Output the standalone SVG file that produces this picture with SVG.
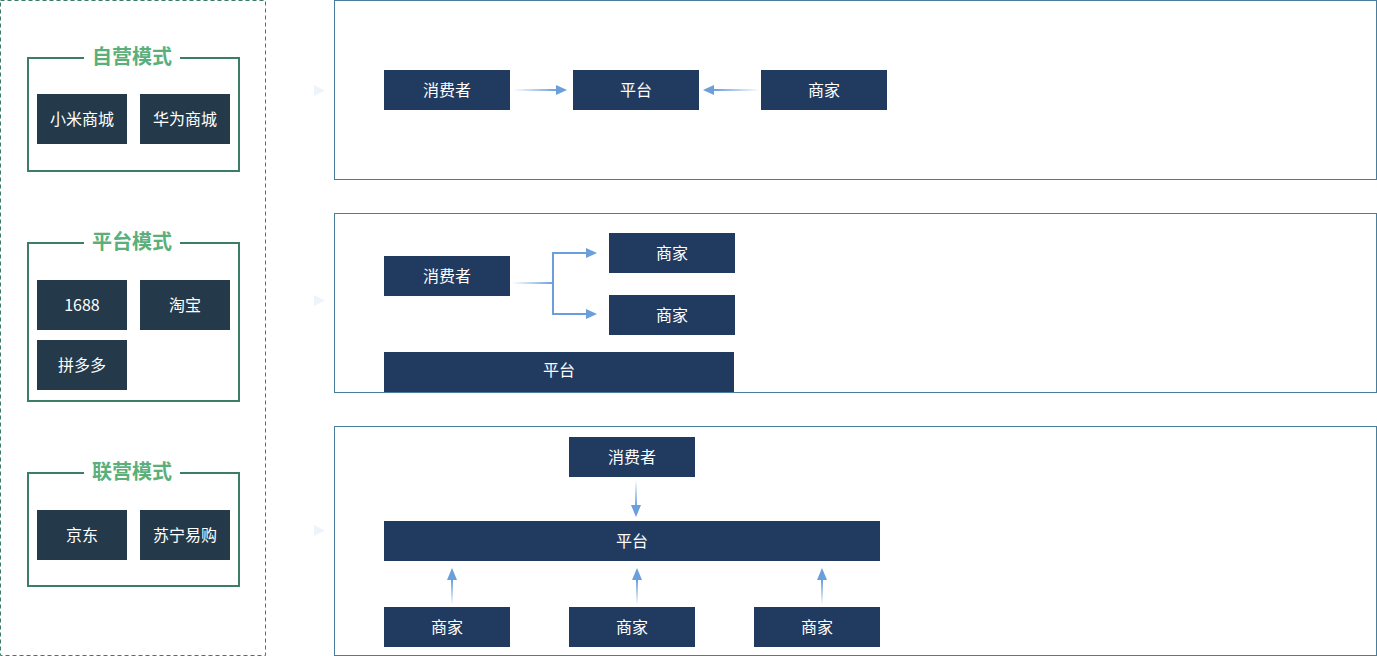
<svg xmlns="http://www.w3.org/2000/svg" width="1377" height="656" viewBox="0 0 1377 656">
<style>
.t{font-family:"Noto Sans CJK SC","Noto Sans",sans-serif;font-size:16px;fill:#ffffff;text-anchor:middle;dominant-baseline:central}
.ttl{font-family:"Noto Sans CJK SC","Noto Sans",sans-serif;font-size:20px;font-weight:bold;fill:#5aaf7a;text-anchor:middle;dominant-baseline:central}
.ln{fill:#213b60}
.ld{fill:#243a4b}
.grp{fill:none;stroke:#3b7d68;stroke-width:2}
.pnl{fill:#ffffff;stroke:#4a7d9c;stroke-width:1}
.tri{fill:#eef4fb}
</style>
<defs>
<linearGradient id="gR" x1="0" y1="0" x2="1" y2="0"><stop offset="0" stop-color="#6a9fdb" stop-opacity="0"/><stop offset="1" stop-color="#6a9fdb"/></linearGradient>
<linearGradient id="gL" x1="1" y1="0" x2="0" y2="0"><stop offset="0" stop-color="#6a9fdb" stop-opacity="0"/><stop offset="1" stop-color="#6a9fdb"/></linearGradient>
<linearGradient id="gD" x1="0" y1="0" x2="0" y2="1"><stop offset="0" stop-color="#6a9fdb" stop-opacity="0"/><stop offset="1" stop-color="#6a9fdb"/></linearGradient>
<linearGradient id="gU" x1="0" y1="1" x2="0" y2="0"><stop offset="0" stop-color="#6a9fdb" stop-opacity="0"/><stop offset="1" stop-color="#6a9fdb"/></linearGradient>
</defs>
<rect width="1377" height="656" fill="#ffffff"/>
<rect x="0.5" y="0.5" width="265" height="655" fill="none" stroke="#3b7d68" stroke-width="1" stroke-dasharray="4,3"/>

<g id="group-ziying">
<path class="grp" d="M84 58 H28 V171 H239 V58 H180"/>
<text class="ttl" x="132" y="55.5">自营模式</text>
<g id="n-xiaomi"><rect class="ld" x="37" y="94" width="90" height="50"/><text class="t" x="82" y="117.5">小米商城</text></g>
<g id="n-huawei"><rect class="ld" x="140" y="94" width="90" height="50"/><text class="t" x="185" y="117.5">华为商城</text></g>
</g>

<g id="group-pingtai">
<path class="grp" d="M84 243 H28 V401 H239 V243 H180"/>
<text class="ttl" x="132" y="240.5">平台模式</text>
<g id="n-1688"><rect class="ld" x="37" y="280" width="90" height="50"/><text class="t" x="82" y="303.5">1688</text></g>
<g id="n-taobao"><rect class="ld" x="140" y="280" width="90" height="50"/><text class="t" x="185" y="303.5">淘宝</text></g>
<g id="n-pdd"><rect class="ld" x="37" y="340" width="90" height="50"/><text class="t" x="82" y="363.5">拼多多</text></g>
</g>

<g id="group-lianying">
<path class="grp" d="M84 473 H28 V586 H239 V473 H180"/>
<text class="ttl" x="132" y="470.5">联营模式</text>
<g id="n-jd"><rect class="ld" x="37" y="510" width="90" height="50"/><text class="t" x="82" y="533.5">京东</text></g>
<g id="n-suning"><rect class="ld" x="140" y="510" width="90" height="50"/><text class="t" x="185" y="533.5">苏宁易购</text></g>
</g>

<polygon class="tri" points="314,85 325,90.5 314,96"/>
<polygon class="tri" points="314,295 325,300.5 314,306"/>
<polygon class="tri" points="314,525 325,530.5 314,536"/>

<g id="panel1">
<rect class="pnl" x="334.5" y="0.5" width="1042" height="179"/>
<g id="p1-consumer"><rect class="ln" x="384" y="70" width="126" height="40"/><text class="t" x="447" y="88.5">消费者</text></g>
<g id="p1-platform"><rect class="ln" x="573" y="70" width="126" height="40"/><text class="t" x="636" y="88.5">平台</text></g>
<g id="p1-merchant"><rect class="ln" x="761" y="70" width="126" height="40"/><text class="t" x="824" y="88.5">商家</text></g>
</g>

<g id="panel2">
<rect class="pnl" x="334.5" y="213.5" width="1042" height="179"/>
<g id="p2-consumer"><rect class="ln" x="384" y="256" width="126" height="40"/><text class="t" x="447" y="274.5">消费者</text></g>
<g id="p2-merchant1"><rect class="ln" x="609" y="233" width="126" height="40"/><text class="t" x="672" y="251.5">商家</text></g>
<g id="p2-merchant2"><rect class="ln" x="609" y="295" width="126" height="40"/><text class="t" x="672" y="313.5">商家</text></g>
<g id="p2-platform"><rect class="ln" x="384" y="352" width="350" height="40"/><text class="t" x="559" y="369">平台</text></g>
</g>

<g id="panel3">
<rect class="pnl" x="334.5" y="426.5" width="1042" height="229"/>
<g id="p3-consumer"><rect class="ln" x="569" y="437" width="126" height="40"/><text class="t" x="632" y="455.5">消费者</text></g>
<g id="p3-platform"><rect class="ln" x="384" y="521" width="496" height="40"/><text class="t" x="632" y="539.5">平台</text></g>
<g id="p3-merchant1"><rect class="ln" x="384" y="607" width="126" height="40"/><text class="t" x="447" y="626">商家</text></g>
<g id="p3-merchant2"><rect class="ln" x="569" y="607" width="126" height="40"/><text class="t" x="632" y="626">商家</text></g>
<g id="p3-merchant3"><rect class="ln" x="754" y="607" width="126" height="40"/><text class="t" x="817" y="626">商家</text></g>
</g>

<g id="connectors">
<rect x="513" y="89" width="44" height="2" fill="url(#gR)"/>
<polygon points="556,85 567,90 556,95" fill="#6a9fdb"/>
<rect x="714" y="89" width="46" height="2" fill="url(#gL)"/>
<polygon points="714,85 703,90 714,95" fill="#6a9fdb"/>

<rect x="512" y="282" width="42" height="2" fill="url(#gR)"/>
<path d="M553 283 V253 H587 M553 283 V314 H587" fill="none" stroke="#6a9fdb" stroke-width="2"/>
<polygon points="586,248 597,253 586,258" fill="#6a9fdb"/>
<polygon points="586,309 597,314 586,319" fill="#6a9fdb"/>

<rect x="635" y="480" width="2" height="27" fill="url(#gD)"/>
<polygon points="631,505 641,505 636,517" fill="#6a9fdb"/>

<rect x="451" y="580" width="2" height="25" fill="url(#gU)"/>
<polygon points="447,580 457,580 452,568" fill="#6a9fdb"/>
<rect x="636" y="580" width="2" height="25" fill="url(#gU)"/>
<polygon points="632,580 642,580 637,568" fill="#6a9fdb"/>
<rect x="821" y="580" width="2" height="25" fill="url(#gU)"/>
<polygon points="817,580 827,580 822,568" fill="#6a9fdb"/>
</g>
</svg>
